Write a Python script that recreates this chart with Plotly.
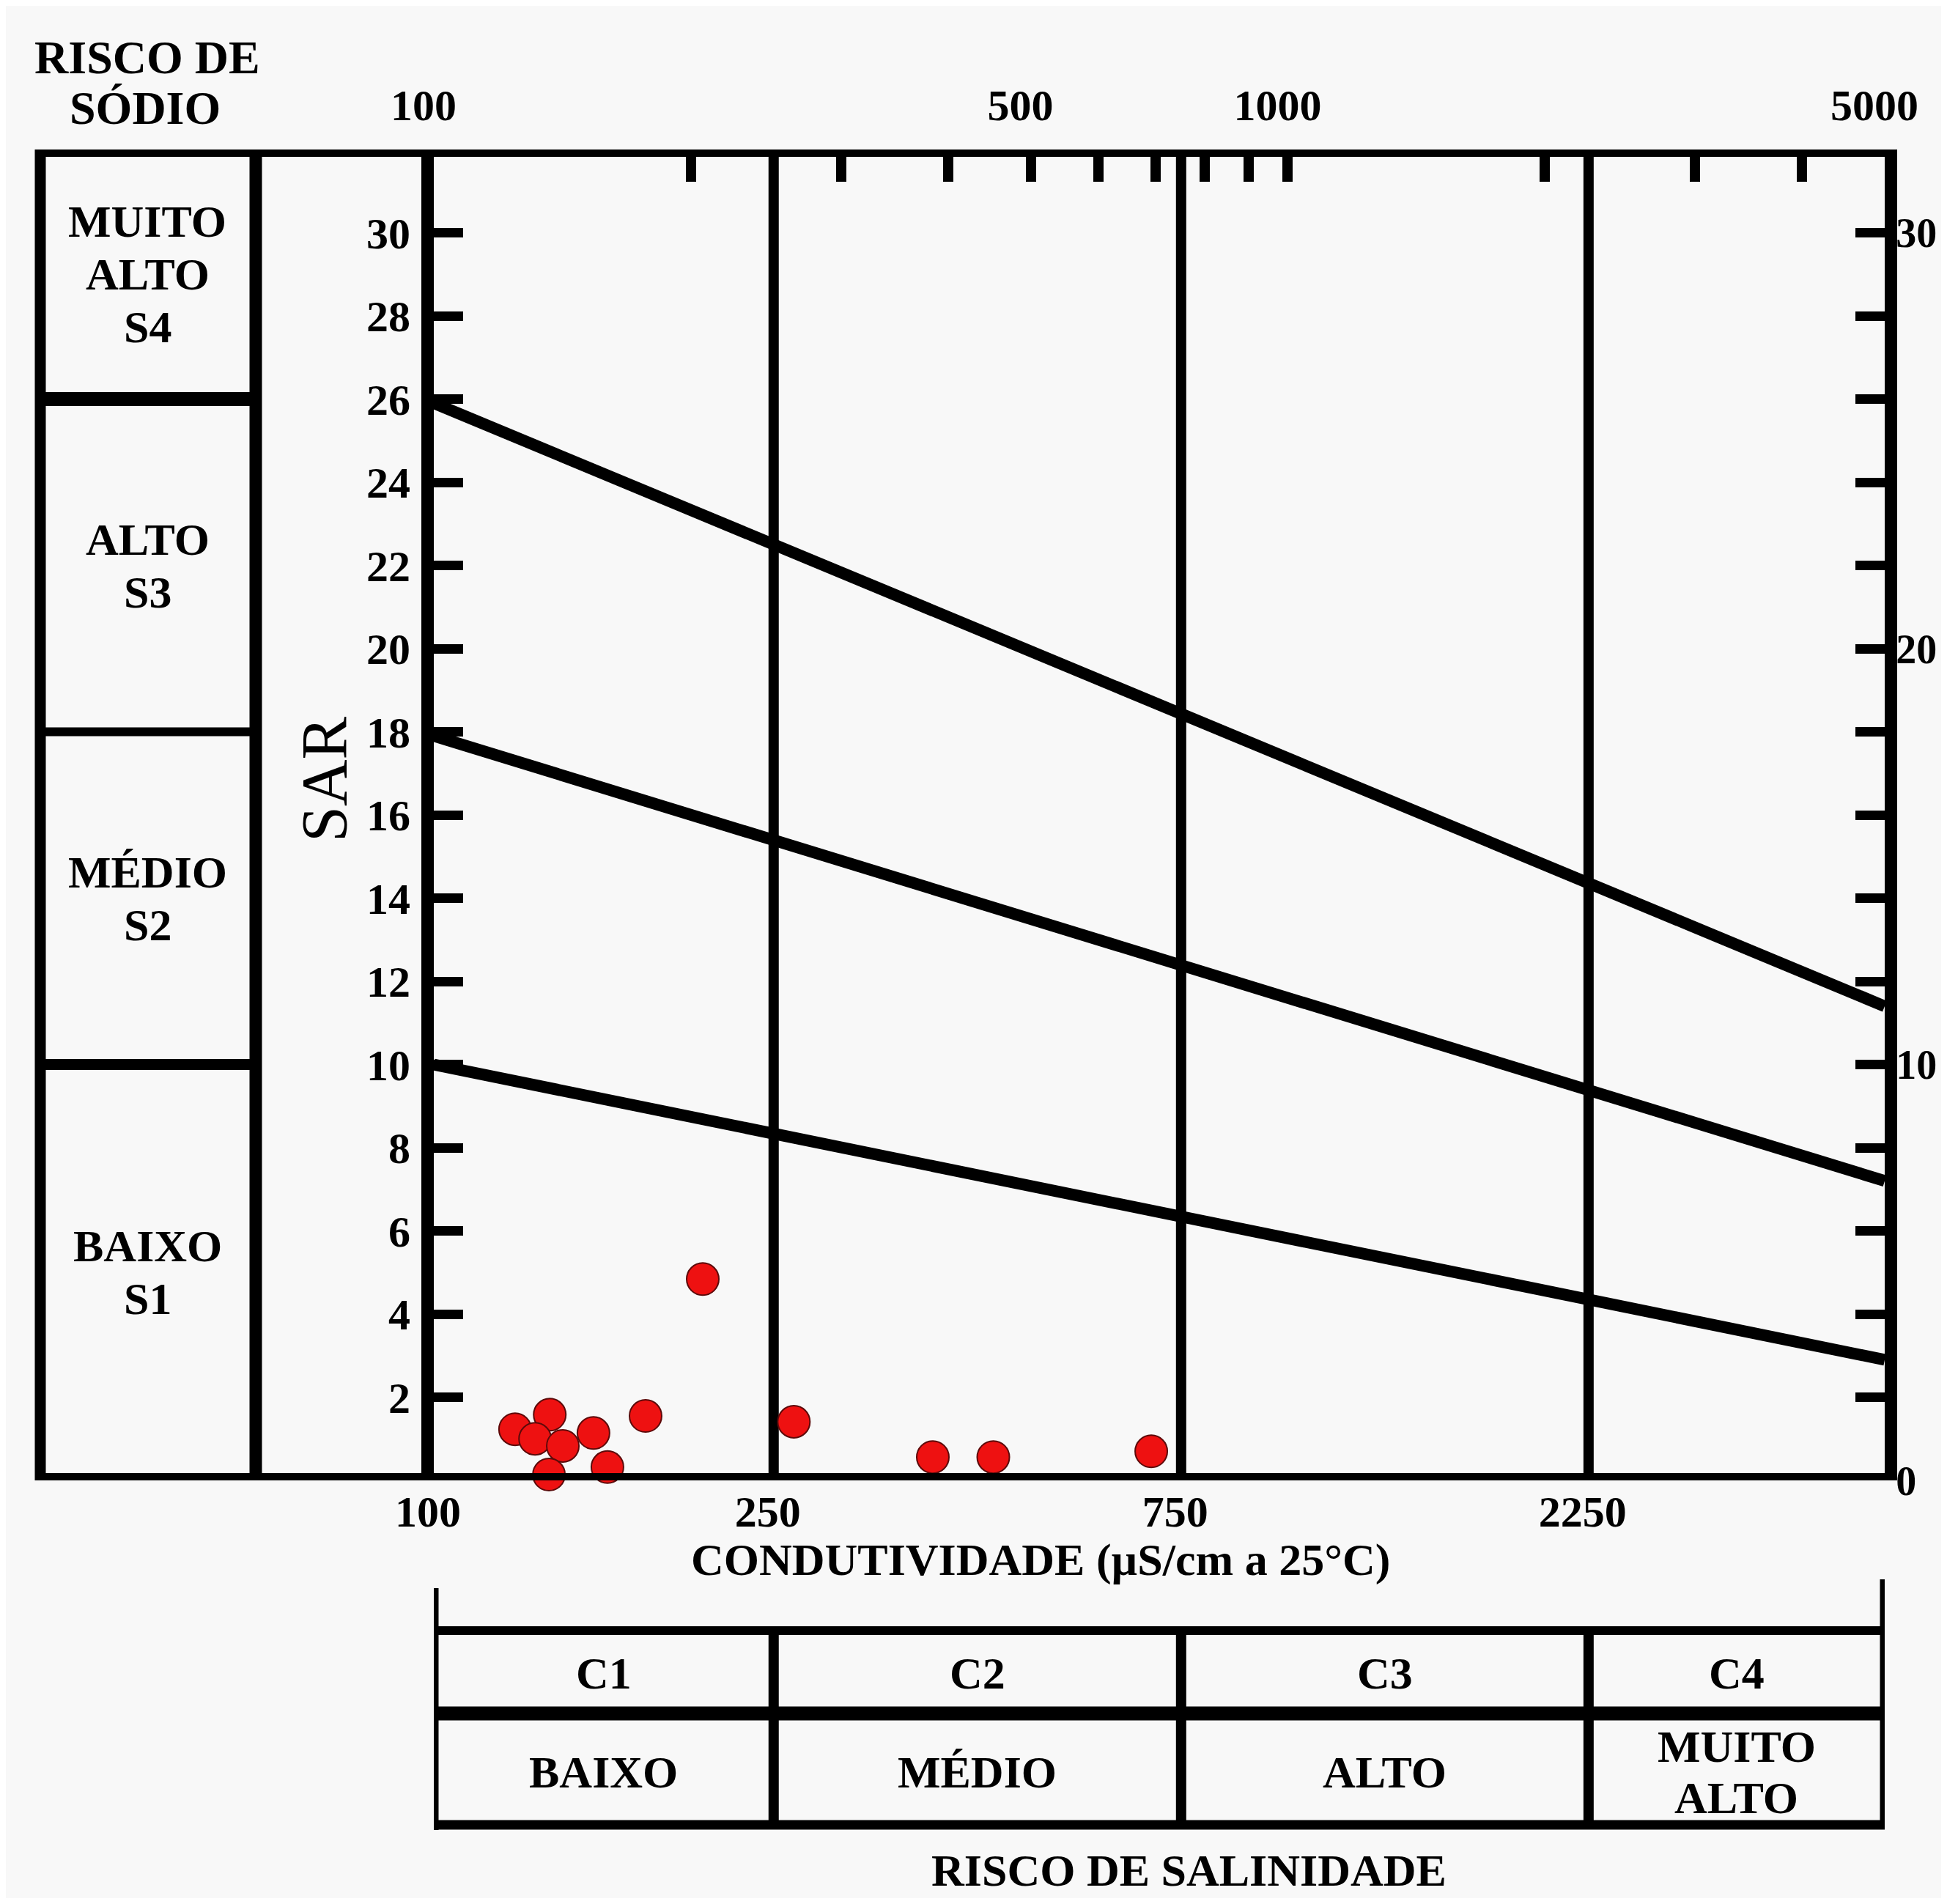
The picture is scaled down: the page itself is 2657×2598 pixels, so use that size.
import numpy as np
import plotly.graph_objects as go

W, H = 2657, 2598          # target picture size
PAGE_MARGIN = 8            # default <body> margin of the written page
FIG_W, FIG_H = W - 2 * PAGE_MARGIN, H - 2 * PAGE_MARGIN

# ---------------- data ----------------
ec = [124.5, 136.7, 131.4, 141.6, 153.8, 136.4, 159.7, 177.0, 206.5, 264.0, 384.0, 452.0, 692.0]
sar = [1.23, 1.58, 1.00, 0.83, 1.14, 0.14, 0.32, 1.55, 4.84, 1.41, 0.56, 0.56, 0.70]

boundary_ec = [100, 5000]
boundary_s1_s2 = [10.0, 2.9]
boundary_s2_s3 = [17.9, 7.2]
boundary_s3_s4 = [25.9, 11.4]

salinity_limits = [100, 250, 750, 2250, 5000]
salinity_classes = ["C1", "C2", "C3", "C4"]
salinity_risk = [["BAIXO"], ["MÉDIO"], ["ALTO"], ["MUITO", "ALTO"]]

sodium_limits = [0, 10, 18, 26, 32]
sodium_classes = [["BAIXO", "S1"], ["MÉDIO", "S2"], ["ALTO", "S3"], ["MUITO", "ALTO", "S4"]]

sar_ticks = list(range(2, 31, 2))
right_ticks = list(range(0, 31, 2))
right_labels = [str(v) if v % 10 == 0 else "" for v in right_ticks]
top_ticks = [100, 200, 300, 400, 500, 600, 700, 800, 900, 1000, 2000, 3000, 4000, 5000]
top_labels = ["100", "", "", "", "500", "", "", "", "", "1000", "", "", "", "5000"]
bottom_ticks = [100, 250, 750, 2250]
bottom_labels = ["100", "250", "750", "2250"]

# ---------------- layout helpers (picture pixels -> paper) ----------------
def px(x):
    return (x - PAGE_MARGIN) / FIG_W


def py(y):
    return 1 - (y - PAGE_MARGIN) / FIG_H


BG = "#f8f8f8"
FONT = "Liberation Serif"
tick_font = dict(family=FONT, size=60, color="black", weight=700)
right_font = dict(family=FONT, size=56, color="black", weight=700)
label_font = dict(family=FONT, size=62, color="black", weight=700)

Y0_PIX, Y32_PIX = 2020, 204
SAR_PX = (Y0_PIX - Y32_PIX) / (sodium_limits[-1] - sodium_limits[0])

fig = go.Figure()

for vals in [boundary_s1_s2, boundary_s2_s3, boundary_s3_s4]:
    fig.add_trace(go.Scatter(x=boundary_ec, y=vals, mode="lines",
                             line=dict(color="black", width=16),
                             showlegend=False, hoverinfo="skip"))

for lim in salinity_limits[1:-1]:
    fig.add_trace(go.Scatter(x=[lim, lim], y=[sodium_limits[0], sodium_limits[-1]], mode="lines",
                             line=dict(color="black", width=14),
                             showlegend=False, hoverinfo="skip"))

fig.add_trace(go.Scatter(x=ec, y=sar, mode="markers", cliponaxis=False,
                         marker=dict(size=44, color="#ee1111",
                                     line=dict(color="#5c0a0a", width=2)),
                         showlegend=False))

# invisible trace for the mirrored (top/right) axes
fig.add_trace(go.Scatter(x=[100], y=[0], xaxis="x2", yaxis="y2", mode="markers",
                         marker=dict(opacity=0), showlegend=False, hoverinfo="skip"))

xr = [np.log10(salinity_limits[0]), np.log10(salinity_limits[-1])]
yr = [sodium_limits[0], sodium_limits[-1]]
xdom = [px(592), px(2572)]
ydom = [py(Y0_PIX), py(Y32_PIX)]

fig.update_layout(
    width=FIG_W, height=FIG_H, autosize=False,
    margin=dict(l=0, r=0, t=0, b=0),
    paper_bgcolor=BG, plot_bgcolor=BG,
    showlegend=False,
    xaxis=dict(type="log", range=xr, domain=xdom, anchor="y",
               showgrid=False, zeroline=False, showline=False,
               tickmode="array", tickvals=bottom_ticks, ticktext=bottom_labels,
               ticks="", tickfont=tick_font, ticklabelstandoff=2, ticklabelshift=-8,
               automargin=False),
    xaxis2=dict(type="log", range=xr, domain=xdom, overlaying="x", side="top", anchor="y2",
                showgrid=False, zeroline=False, showline=False,
                tickmode="array", tickvals=top_ticks, ticktext=top_labels,
                ticks="inside", ticklen=44, tickwidth=14, tickcolor="black",
                tickfont=tick_font, ticklabelstandoff=27, ticklabelshift=-14,
                automargin=False),
    yaxis=dict(range=yr, domain=ydom, anchor="x",
               showgrid=False, zeroline=False, showline=True, linecolor="black", linewidth=17,
               tickmode="array", tickvals=sar_ticks, ticktext=[str(v) for v in sar_ticks],
               ticks="inside", ticklen=40, tickwidth=13, tickcolor="black",
               tickfont=tick_font, ticklabelstandoff=3, automargin=False),
    yaxis2=dict(range=yr, domain=ydom, overlaying="y", side="right", anchor="x2",
                showgrid=False, zeroline=False, showline=True, linecolor="black", linewidth=17,
                tickmode="array", tickvals=right_ticks, ticktext=right_labels,
                ticks="inside", ticklen=40, tickwidth=13, tickcolor="black",
                tickfont=right_font, ticklabelstandoff=-13, automargin=False),
)

shapes = []
# outer frame (top / bottom) spanning the sodium panel and the plot
shapes.append(dict(type="line", xref="paper", yref="y", x0=px(48), x1=px(2581),
                   y0=sodium_limits[-1], y1=sodium_limits[-1], line=dict(color="black", width=20)))
shapes.append(dict(type="line", xref="paper", yref="y", x0=px(48), x1=px(2581),
                   y0=sodium_limits[0], y1=sodium_limits[0], line=dict(color="black", width=20)))
# sodium panel verticals
shapes.append(dict(type="line", xref="paper", yref="y", x0=px(55), x1=px(55),
                   y0=sodium_limits[0], y1=sodium_limits[-1], line=dict(color="black", width=15)))
shapes.append(dict(type="line", xref="paper", yref="y", x0=px(349), x1=px(349),
                   y0=sodium_limits[0], y1=sodium_limits[-1], line=dict(color="black", width=17)))
# sodium class dividers
for lim, w in zip(sodium_limits[1:-1], [15, 12, 19]):
    shapes.append(dict(type="line", xref="paper", yref="y", x0=px(55), x1=px(349),
                       y0=lim, y1=lim, line=dict(color="black", width=w)))

# salinity table
tbl_rows = [2225, 2338, 2490]
for yy, w in zip(tbl_rows, [12, 19, 13]):
    shapes.append(dict(type="line", xref="x", yref="paper",
                       x0=salinity_limits[0], x1=salinity_limits[-1],
                       y0=py(yy), y1=py(yy), line=dict(color="black", width=w)))
shapes.append(dict(type="line", xref="x", yref="paper", x0=salinity_limits[0], x1=salinity_limits[0],
                   y0=py(2167), y1=py(2497), line=dict(color="black", width=13)))
shapes.append(dict(type="line", xref="x", yref="paper", x0=salinity_limits[-1], x1=salinity_limits[-1],
                   y0=py(2155), y1=py(2496), line=dict(color="black", width=13)))
for lim in salinity_limits[1:-1]:
    shapes.append(dict(type="line", xref="x", yref="paper", x0=lim, x1=lim,
                       y0=py(tbl_rows[0]), y1=py(tbl_rows[-1]), line=dict(color="black", width=14)))

fig.update_layout(shapes=shapes)

ann = []
# salinity table labels
for i, (c, r) in enumerate(zip(salinity_classes, salinity_risk)):
    xm = (np.log10(salinity_limits[i]) + np.log10(salinity_limits[i + 1])) / 2
    ann.append(dict(text=c, xref="x", yref="paper", x=xm, y=py(2283),
                    showarrow=False, font=label_font, xanchor="center", yanchor="middle"))
    n = len(r)
    for k, line in enumerate(r):
        yy = 2418 + (k - (n - 1) / 2) * 70
        ann.append(dict(text=line, xref="x", yref="paper", x=xm, y=py(yy),
                        showarrow=False, font=label_font, xanchor="center", yanchor="middle"))

# sodium panel labels
LINE_STEP = 72 / SAR_PX
for i, lines in enumerate(sodium_classes):
    ym = (sodium_limits[i] + sodium_limits[i + 1]) / 2
    n = len(lines)
    for k, line in enumerate(lines):
        ann.append(dict(text=line, xref="paper", yref="y", x=px(201),
                        y=ym - (k - (n - 1) / 2) * LINE_STEP,
                        showarrow=False, font=label_font, xanchor="center", yanchor="middle"))

title_font = dict(family=FONT, size=64, color="black", weight=700)
ann.append(dict(text="RISCO DE", xref="paper", yref="paper", x=px(201), y=py(79),
                showarrow=False, font=title_font, xanchor="center", yanchor="middle"))
ann.append(dict(text="SÓDIO", xref="paper", yref="paper", x=px(198), y=py(148),
                showarrow=False, font=title_font, xanchor="center", yanchor="middle"))
ann.append(dict(text="SAR", xref="paper", yref="paper", x=px(442), y=py(1064), textangle=-90,
                showarrow=False, font=dict(family=FONT, size=88, color="black"),
                xanchor="center", yanchor="middle"))
ann.append(dict(text="CONDUTIVIDADE (µS/cm a 25°C)", xref="paper", yref="paper",
                x=px(1420), y=py(2128), showarrow=False,
                font=dict(family=FONT, size=62, color="black", weight=700),
                xanchor="center", yanchor="middle"))
ann.append(dict(text="RISCO DE SALINIDADE", xref="paper", yref="paper",
                x=px(1622), y=py(2552), showarrow=False,
                font=dict(family=FONT, size=62, color="black", weight=700),
                xanchor="center", yanchor="middle"))
fig.update_layout(annotations=ann)

fig.write_html("out.html")
